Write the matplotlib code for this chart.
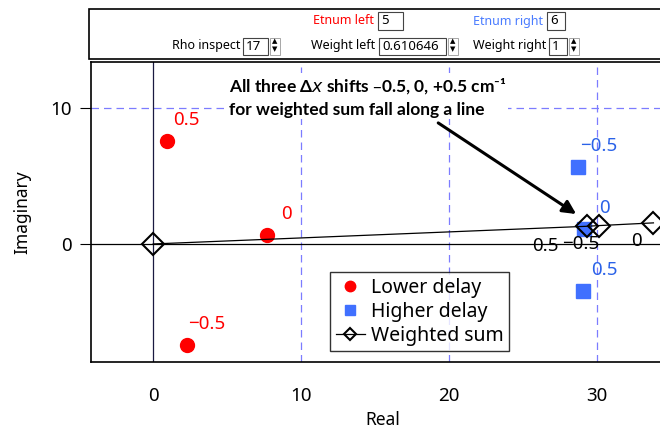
import matplotlib.pyplot as plt
from matplotlib.patches import Rectangle

# data
lower_re = [0.95, 7.7, 2.3]
lower_im = [7.57, 0.66, -7.4]
lower_lbl = ["0.5", "0", "\u22120.5"]

higher_re = [28.7, 29.1, 29.05]
higher_im = [5.66, 1.1, -3.46]
higher_lbl = ["\u22120.5", "0", "0.5"]

wsum_re = [0.0, 29.3, 30.1, 33.8]
wsum_im = [0.0, 1.3, 1.35, 1.55]
wsum_lbl = ["", "0.5", "\u22120.5", "0"]

RED = "#ff0000"
BLUE = "#4070ff"
BLUE_TXT = "#2a62e8"
GRID = "#7c7cff"

W, H = 660, 432


def fx(px):
    return px / W


def fy(py):
    return 1 - py / H


fig = plt.figure(figsize=(6.6, 4.32), dpi=100)
plt.rcParams['font.family'] = ['Noto Sans', 'DejaVu Sans']

# plot frame: left 91px, top 62px, bottom 362px, runs past the right edge
ax = fig.add_axes([fx(91), fy(362), 595 / W, 300 / H])
ax.set_xlim(-4.2, 36.0)
ax.set_ylim(-8.68, 13.38)

for gx in [10, 20, 30]:
    ax.axvline(gx, color=GRID, lw=0.9, dashes=(6, 4), zorder=0)
ax.axhline(10, color=GRID, lw=0.9, dashes=(6, 4), zorder=0)
ax.axvline(0, color="#1a1a40", lw=0.9, zorder=1)
ax.axhline(0, color="black", lw=0.9, zorder=1)

ax.plot(lower_re, lower_im, 'o', color=RED, ms=10, ls='none', label="Lower delay", zorder=3)
ax.plot(higher_re, higher_im, 's', color=BLUE, ms=10, ls='none', label="Higher delay", zorder=3)
ax.plot(wsum_re, wsum_im, '-D', color='black', lw=0.9, ms=11, mfc='none', mew=1.5,
        label="Weighted sum", zorder=4)

for x, y, t in zip(lower_re, lower_im, lower_lbl):
    ax.annotate(t, (x, y), xytext=(14, 15), textcoords='offset points',
                color=RED, fontsize=13.5, ha='center', va='center')
for x, y, t in zip(higher_re, higher_im, higher_lbl):
    ax.annotate(t, (x, y), xytext=(15, 15), textcoords='offset points',
                color=BLUE_TXT, fontsize=13.5, ha='center', va='center')
w_off = [(0, 0), (-30, -14), (-13, -13), (-12, -13)]
for x, y, t, off in zip(wsum_re, wsum_im, wsum_lbl, w_off):
    if t:
        ax.annotate(t, (x, y), xytext=off, textcoords='offset points',
                    color='black', fontsize=13.5, ha='center', va='center', zorder=5)

ax.text(5.1, 10.8, "All three \u0394$x$ shifts \u20130.5, 0, +0.5 cm\u207b\u00b9\nfor weighted sum fall along a line",
        fontsize=12.5, fontweight='bold', family=['Lato', 'DejaVu Sans'],
        ha='left', va='center', linespacing=1.45,
        bbox=dict(facecolor='white', edgecolor='none', pad=1), zorder=6)
ax.annotate("", xy=(28.58, 2.2), xytext=(19.26, 8.9),
            arrowprops=dict(arrowstyle='-|>', color='black', lw=2.2,
                            mutation_scale=20, shrinkA=0, shrinkB=0), zorder=6)

ax.set_xticks([0, 10, 20, 30])
ax.set_yticks([0, 10])
ax.tick_params(axis='x', length=0, pad=18, labelsize=13.5)
ax.tick_params(axis='y', length=8, direction='out', pad=6, labelsize=13.5)
for s in ax.spines.values():
    s.set_linewidth(1.2)

ax.set_xlabel("Real", fontsize=12.5)
ax.xaxis.set_label_coords((383 - 91) / 595, -58 / 300)
ax.set_ylabel("Imaginary", fontsize=12.5)
ax.yaxis.set_label_coords(-(91 - 22) / 595, 0.5)
ax.xaxis.label.set_va('center')
ax.yaxis.label.set_va('center')

leg = ax.legend(loc='upper left', bbox_to_anchor=((330 - 91) / 595, (362 - 272) / 300),
                borderaxespad=0, fontsize=14, frameon=True, fancybox=False,
                edgecolor='black', handlelength=1.5, handletextpad=0.3,
                labelspacing=0.2, borderpad=0.3)
leg.get_frame().set_linewidth(1.0)
leg.set_zorder(7)
for h, ms in zip(leg.legend_handles, [7.5, 7.5, 6.5]):
    h.set_markersize(ms)

# control panel above the plot
fig.add_artist(Rectangle((fx(89), fy(59)), fx(680 - 89), 50 / H, transform=fig.transFigure,
                         facecolor='white', edgecolor='black', lw=1.2))


def field(lbl_right, box_l, box_r, cy, label, value, color='black', spinner=False):
    fig.text(fx(lbl_right), fy(cy), label, color=color, fontsize=9, ha='right', va='center')
    fig.add_artist(Rectangle((fx(box_l), fy(cy + 8.5)), fx(box_r - box_l), 17 / H,
                             transform=fig.transFigure, facecolor='white',
                             edgecolor='#444444', lw=0.8))
    fig.text(fx(box_l + 3), fy(cy), value, fontsize=9.5, ha='left', va='center')
    if spinner:
        sx = box_r + 7
        fig.add_artist(Rectangle((fx(sx - 5), fy(cy + 8.5)), fx(10), 17 / H,
                                 transform=fig.transFigure, facecolor='white',
                                 edgecolor='#999999', lw=0.6))
        fig.text(fx(sx), fy(cy - 4), "\u25b2", fontsize=5, ha='center', va='center')
        fig.text(fx(sx), fy(cy + 4), "\u25bc", fontsize=5, ha='center', va='center')


field(374, 378, 403, 21, "Etnum left", "5", color=RED)
field(543, 547, 565, 21, "Etnum right", "6", color="#4a7cff")
field(240, 243, 268, 46, "Rho inspect", "17", spinner=True)
field(375, 379, 446, 46, "Weight left", "0.610646", spinner=True)
field(546, 549, 567, 46, "Weight right", "1", spinner=True)

fig.savefig("out.png", dpi=100)
